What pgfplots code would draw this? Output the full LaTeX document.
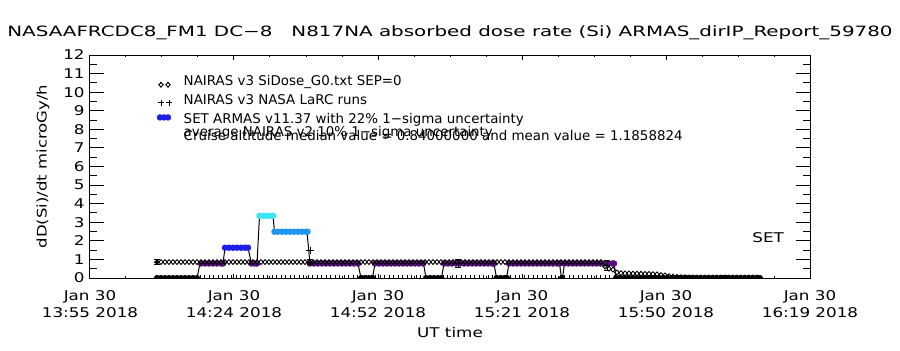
\documentclass[border=0pt]{standalone}
\usepackage{fontspec}
\setmainfont{DejaVu Sans}[FakeStretch=1.25]
\newfontfamily\plainfont{DejaVu Sans}
\newfontfamily\titlefont{DejaVu Sans}[FakeStretch=1.4]
\usepackage{pgfplots}
\pgfplotsset{compat=1.18}
\definecolor{armpurple}{RGB}{85,15,120}
\definecolor{armblue}{RGB}{30,30,230}
\definecolor{armcyan}{RGB}{60,230,240}
\definecolor{armlblue}{RGB}{30,150,240}
\begin{document}
\begin{tikzpicture}
\useasboundingbox (-45pt,-36pt) rectangle (405pt,139pt);
\begin{axis}[
  at={(0,0)}, anchor=south west,
  scale only axis, width=360pt, height=111.5pt,
  xmin=0, xmax=144, ymin=0, ymax=12,
  axis line style={black, line width=0.5pt},
  font=\fontsize{6.7}{8.5}\selectfont,
  /pgf/number format/assume math mode=true,
  tick align=inside,
  xtick={0,28.8,57.6,86.4,115.2,144},
  minor x tick num=3,
  xticklabels={{Jan 30\\13:55 2018},{Jan 30\\14:24 2018},{Jan 30\\14:52 2018},{Jan 30\\15:21 2018},{Jan 30\\15:50 2018},{Jan 30\\16:19 2018}},
  xticklabel style={align=center, anchor=north, inner sep=0pt, yshift=-6pt},
  ytick={0,1,...,12},
  minor y tick num=1,
  yticklabel style={anchor=east, inner sep=0pt, xshift=-2.5pt},
  xtick style={/pgfplots/major tick length=2.25pt,/pgfplots/minor tick length=1.2pt, black, line width=0.5pt},
  ytick style={/pgfplots/major tick length=7.2pt,/pgfplots/minor tick length=3.6pt, black, line width=0.5pt},
  title={NASAAFRCDC8\_FM1 DC−8\ \ \ N817NA absorbed dose rate (Si) ARMAS\_dirIP\_Report\_59780},
  every axis title/.style={at={(axis description cs:0.5,1)}, anchor=center, yshift=11pt, font=\titlefont\fontsize{7.1}{8}\selectfont},
  xlabel={UT time},
  every axis x label/.style={at={(axis description cs:0.5,0)}, anchor=center, yshift=-27pt},
  ylabel={dD(Si)/dt microGy/h},
  every axis y label/.style={at={(axis description cs:-0.0653,0.5)}, anchor=center, rotate=90, font=\fontsize{6.6}{8}\selectfont},
  clip marker paths=true,
]
% ARMAS connecting line
\addplot[black, line width=0.5pt, mark=none] coordinates {
(13.4,0)(21.4,0)(22.0,0.78)(26.6,0.78)(27.0,1.63)(31.6,1.63)(32.3,0.78)(33.4,0.78)(33.9,3.35)(36.6,3.35)(36.9,2.49)(43.4,2.49)(44.0,0.78)(53.6,0.78)(54.2,0)(56.5,0)(57.0,0.78)(66.7,0.78)(67.2,0)(70.3,0)(70.8,0.78)(80.8,0.78)(81.3,0)(83.3,0)(83.8,0.78)(93.9,0.78)(94.3,0)(94.5,0)(94.9,0.78)(104.8,0.78)(105.2,0)(134.0,0)};
% ARMAS zero values
\addplot[only marks, mark=*, mark size=1.3pt, mark options={draw=black, fill=black}] coordinates {
(13.4,0)(14.2,0)(15.0,0)(15.8,0)(16.6,0)(17.4,0)(18.2,0)(19.0,0)(19.8,0)(20.6,0)(21.4,0)
(54.2,0)(55.0,0)(55.8,0)(56.5,0)
(67.2,0)(68.0,0)(68.8,0)(69.6,0)(70.3,0)
(81.3,0)(82.1,0)(82.9,0)(83.4,0)
(94.4,0)
(105.2,0)(106.0,0)(106.8,0)(107.6,0)(108.4,0)(109.2,0)(110.0,0)(110.8,0)(111.6,0)(112.4,0)(113.2,0)(114.0,0)(114.8,0)(115.6,0)(116.4,0)(117.2,0)(118.0,0)(118.8,0)(119.6,0)(120.4,0)(121.2,0)(122.0,0)(122.8,0)(123.6,0)(124.4,0)(125.2,0)(126.0,0)(126.8,0)(127.6,0)(128.4,0)(129.2,0)(130.0,0)(130.8,0)(131.6,0)(132.4,0)(133.2,0)(134.0,0)};
% ARMAS purple
\addplot[only marks, mark=*, mark size=1.4pt, mark options={draw=armpurple, fill=armpurple}] coordinates {
(22.2,0.78)(23.0,0.78)(23.8,0.78)(24.6,0.78)(25.4,0.78)(26.2,0.78)(26.6,0.78)
(32.3,0.78)(32.9,0.78)(33.4,0.78)
(44.0,0.78)(44.8,0.78)(45.6,0.78)(46.4,0.78)(47.2,0.78)(48.0,0.78)(48.8,0.78)(49.6,0.78)(50.4,0.78)(51.2,0.78)(52.0,0.78)(52.8,0.78)(53.6,0.78)
(57.0,0.78)(57.8,0.78)(58.6,0.78)(59.4,0.78)(60.2,0.78)(61.0,0.78)(61.8,0.78)(62.6,0.78)(63.4,0.78)(64.2,0.78)(65.0,0.78)(65.8,0.78)(66.6,0.78)
(70.8,0.78)(71.6,0.78)(72.4,0.78)(73.2,0.78)(74.0,0.78)(74.8,0.78)(75.6,0.78)(76.4,0.78)(77.2,0.78)(78.0,0.78)(78.8,0.78)(79.6,0.78)(80.4,0.78)(80.8,0.78)
(83.8,0.78)(84.6,0.78)(85.4,0.78)(86.2,0.78)(87.0,0.78)(87.8,0.78)(88.6,0.78)(89.4,0.78)(90.2,0.78)(91.0,0.78)(91.8,0.78)(92.6,0.78)(93.4,0.78)(93.9,0.78)
(94.9,0.78)(95.7,0.78)(96.5,0.78)(97.3,0.78)(98.1,0.78)(98.9,0.78)(99.7,0.78)(100.5,0.78)(101.3,0.78)(102.1,0.78)(102.9,0.78)(103.7,0.78)(104.5,0.78)(104.8,0.78)};
% ARMAS blue
\addplot[only marks, mark=*, mark size=1.4pt, mark options={draw=armblue, fill=armblue}] coordinates {
(27.0,1.63)(27.8,1.63)(28.6,1.63)(29.4,1.63)(30.2,1.63)(31.0,1.63)(31.6,1.63)};
% ARMAS cyan
\addplot[only marks, mark=*, mark size=1.4pt, mark options={draw=armcyan, fill=armcyan}] coordinates {
(33.9,3.35)(34.6,3.35)(35.3,3.35)(36.0,3.35)(36.6,3.35)};
% ARMAS light blue
\addplot[only marks, mark=*, mark size=1.4pt, mark options={draw=armlblue, fill=armlblue}] coordinates {
(36.9,2.49)(37.6,2.49)(38.4,2.49)(39.2,2.49)(40.0,2.49)(40.8,2.49)(41.6,2.49)(42.4,2.49)(43.2,2.49)(43.5,2.49)};
% NAIRAS v3 G0 diamonds
\addplot[only marks, mark=diamond, mark size=1.2pt, mark options={black, line width=0.45pt, xscale=1.25}] coordinates {
(13.4,0.86)(14.2,0.86)(15.0,0.86)(15.8,0.86)(16.6,0.86)(17.4,0.86)(18.2,0.86)(19.0,0.86)(19.8,0.86)(20.6,0.86)(21.4,0.86)(22.2,0.86)(23.0,0.86)(23.8,0.86)(24.6,0.86)(25.4,0.86)(26.2,0.86)(27.0,0.86)(27.8,0.86)(28.6,0.86)(29.4,0.86)(30.2,0.86)(31.0,0.86)(31.8,0.86)(32.6,0.86)(33.4,0.86)(34.2,0.86)(35.0,0.86)(35.8,0.86)(36.6,0.86)(37.4,0.86)(38.2,0.86)(39.0,0.86)(39.8,0.86)(40.6,0.86)(41.4,0.86)(42.2,0.86)(43.0,0.86)(43.8,0.86)(44.6,0.86)(45.4,0.86)(46.2,0.86)(47.0,0.86)(47.8,0.86)(48.6,0.86)(49.4,0.86)(50.2,0.86)(51.0,0.86)(51.8,0.86)(52.6,0.86)(53.4,0.86)(54.2,0.86)(55.0,0.86)(55.8,0.86)(56.6,0.86)(57.4,0.86)(58.2,0.86)(59.0,0.86)(59.8,0.86)(60.6,0.86)(61.4,0.86)(62.2,0.86)(63.0,0.86)(63.8,0.86)(64.6,0.86)(65.4,0.86)(66.2,0.86)(67.0,0.86)(67.8,0.86)(68.6,0.86)(69.4,0.86)(70.2,0.86)(71.0,0.86)(71.8,0.86)(72.6,0.86)(73.4,0.86)(74.2,0.86)(75.0,0.86)(75.8,0.86)(76.6,0.86)(77.4,0.86)(78.2,0.86)(79.0,0.86)(79.8,0.86)(80.6,0.86)(81.4,0.86)(82.2,0.86)(83.0,0.86)(83.8,0.86)(84.6,0.86)(85.4,0.86)(86.2,0.86)(87.0,0.86)(87.8,0.86)(88.6,0.86)(89.4,0.86)(90.2,0.86)(91.0,0.86)(91.8,0.86)(92.6,0.86)(93.4,0.86)(94.2,0.86)(95.0,0.86)(95.8,0.86)(96.6,0.86)(97.4,0.86)(98.2,0.86)(99.0,0.86)(99.8,0.86)(100.6,0.86)(101.4,0.86)(102.2,0.86)
(103.0,0.62)(103.8,0.5)(104.6,0.45)(105.4,0.3)(106.2,0.26)(107.0,0.25)(107.8,0.25)(108.6,0.24)(109.4,0.24)(110.2,0.23)(111.0,0.22)(111.8,0.22)(112.6,0.21)(113.4,0.2)(114.2,0.16)(115.0,0.14)(115.8,0.1)(116.6,0.08)(117.4,0.06)(118.2,0.05)(119.0,0.04)(119.8,0.03)(120.6,0.03)(121.4,0.03)(122.2,0.03)(123.0,0.03)(123.8,0.03)(124.6,0.03)(125.4,0.03)(126.2,0.03)(127.0,0.03)(127.8,0.03)(128.6,0.03)(129.4,0.03)(130.2,0.03)(131.0,0.03)(131.8,0.03)(132.6,0.03)(133.4,0.03)};
% NAIRAS v3 LaRC runs (zero values)
\addplot[only marks, mark=+, mark size=1.6pt, mark options={black, line width=0.4pt}] coordinates {
(22.0,0)(22.9,0)(23.8,0)(24.7,0)(25.6,0)(26.5,0)(27.4,0)(28.3,0)(29.2,0)(30.1,0)(31.0,0)(31.9,0)(32.8,0)(33.7,0)(34.6,0)(35.5,0)(36.4,0)(37.3,0)(38.2,0)(39.1,0)(40.0,0)(40.9,0)(41.8,0)(42.7,0)(43.6,0)(44.5,0)(45.4,0)(46.3,0)(47.2,0)(48.1,0)(49.0,0)(49.9,0)(50.8,0)(51.7,0)(52.6,0)(53.5,0)(54.4,0)(55.3,0)(56.2,0)(57.1,0)(58.0,0)(58.9,0)(59.8,0)(60.7,0)(61.6,0)(62.5,0)(63.4,0)(64.3,0)(65.2,0)(66.1,0)(67.0,0)(67.9,0)(68.8,0)(69.7,0)(70.6,0)(71.5,0)(72.4,0)(73.3,0)(74.2,0)(75.1,0)(76.0,0)(76.9,0)(77.8,0)(78.7,0)(79.6,0)(80.5,0)(81.4,0)(82.3,0)(83.2,0)(84.1,0)(85.0,0)(85.9,0)(86.8,0)(87.7,0)(88.6,0)(89.5,0)(90.4,0)(91.3,0)(92.2,0)(93.1,0)(94.0,0)(94.9,0)(95.8,0)(96.7,0)(97.6,0)(98.5,0)(99.4,0)(100.3,0)(101.2,0)(102.1,0)(103.0,0)(103.9,0)(104.8,0)(105.7,0)(106.6,0)(107.5,0)(108.4,0)(109.3,0)(110.2,0)(111.1,0)(112.0,0)(112.9,0)(113.8,0)(114.7,0)(115.6,0)(116.5,0)(117.4,0)(118.3,0)(119.2,0)(120.1,0)(121.0,0)(121.9,0)(122.8,0)(123.7,0)(124.6,0)(125.5,0)(126.4,0)(127.3,0)(128.2,0)(129.1,0)(130.0,0)(130.9,0)(131.8,0)(132.7,0)(133.6,0)};
% LaRC runs with uncertainty
\addplot[only marks, mark=+, mark size=1.6pt, mark options={black, line width=0.4pt},
  error bars/.cd, y dir=both, y explicit,
  error bar style={black, line width=0.5pt},
  error mark options={rotate=90, mark size=1.6pt, black, line width=0.5pt}] coordinates {
(13.4,0.86) +- (0,0.16)
(44.0,0.86) +- (0,0.16)
(73.6,0.78) +- (0,0.19)
(103.4,0.68) +- (0,0.25)};
\addplot[only marks, mark=+, mark size=1.8pt, mark options={black, line width=0.5pt}] coordinates {(44.0,1.5)};
% legend symbols
\addplot[only marks, mark=diamond, mark size=1.2pt, mark options={black, line width=0.45pt, xscale=1.25}] coordinates {(14.2,10.40)(15.6,10.40)};
\addplot[only marks, mark=+, mark size=1.5pt, mark options={black, line width=0.4pt}] coordinates {(14.2,9.44)(15.8,9.44)};
\addplot[only marks, mark=*, mark size=1.4pt, mark options={draw=armblue, fill=armblue}] coordinates {(14.0,8.64)(14.8,8.64)(15.6,8.64)};
% legend texts
\node[anchor=base west, inner sep=0pt, font=\plainfont\fontsize{6.7}{8}\selectfont] at (axis cs:18.67,10.386) {NAIRAS v3 SiDose\_G0.txt SEP=0};
\node[anchor=base west, inner sep=0pt, font=\plainfont\fontsize{6.7}{8}\selectfont] at (axis cs:18.67,9.347) {NAIRAS v3 NASA LaRC runs};
\node[anchor=base west, inner sep=0pt, font=\plainfont\fontsize{6.7}{8}\selectfont] at (axis cs:18.67,8.325) {SET ARMAS v11.37 with 22\% 1−sigma uncertainty};
\node[anchor=base west, inner sep=0pt, font=\plainfont\fontsize{6.7}{8}\selectfont] at (axis cs:18.67,7.641) {average NAIRAS v2 10\% 1−sigma uncertainty};
\node[anchor=base west, inner sep=0pt, font=\plainfont\fontsize{6.7}{8}\selectfont] at (axis cs:18.67,7.426) {Cruise altitude median value = 0.84000000 and mean value = 1.1858824};
\node[anchor=base west, inner sep=0pt] at (axis cs:132.4,1.937) {SET};
\end{axis}
\end{tikzpicture}
\end{document}
